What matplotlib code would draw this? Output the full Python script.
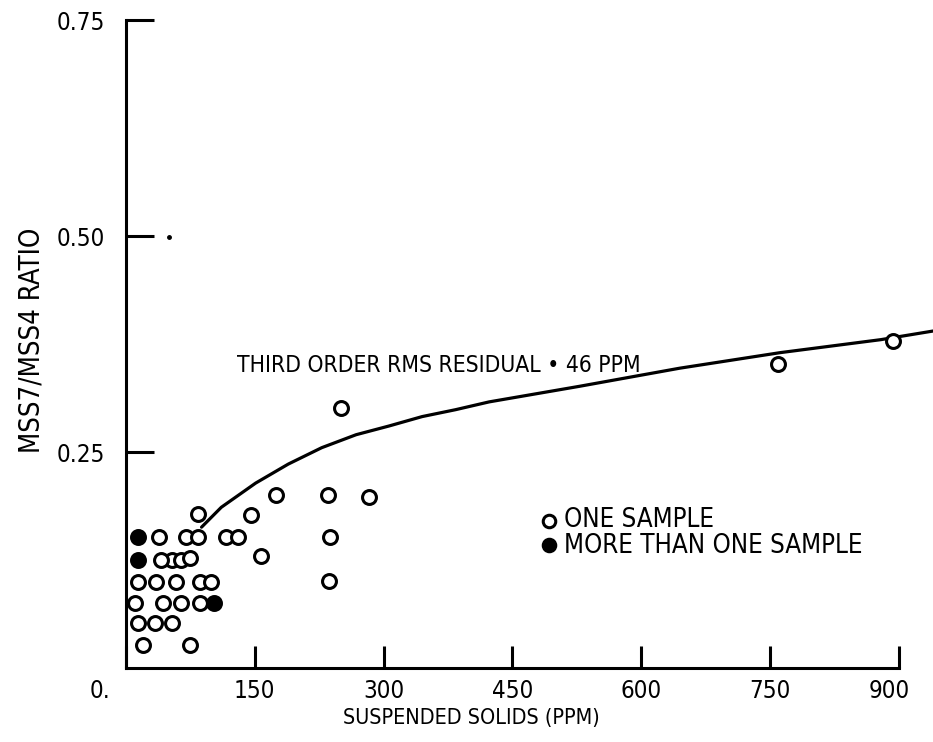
import os
import matplotlib
matplotlib.use("Agg")
import matplotlib.pyplot as plt
import matplotlib.font_manager as fm
from matplotlib.font_manager import FontProperties
from matplotlib.transforms import ScaledTranslation

plt.rcParams['font.family'] = ['DejaVu Sans']

# ---- data ----
open_x = [250, 175, 235, 283, 146, 84, 157, 238, 237, 116, 131, 70, 84, 39,
          53, 64, 75, 86, 99, 86, 75, 20, 760, 893,
          41, 14, 35, 58, 11, 43, 64, 14, 34, 53]
open_y = [0.301, 0.200, 0.200, 0.198, 0.177, 0.178, 0.130, 0.152, 0.101, 0.152,
          0.152, 0.152, 0.152, 0.152, 0.125, 0.125, 0.127, 0.100, 0.100, 0.075,
          0.027, 0.027, 0.352, 0.378,
          0.125, 0.100, 0.100, 0.100, 0.075, 0.075, 0.075, 0.052, 0.052, 0.052]
filled_x = [14, 14, 102]
filled_y = [0.152, 0.125, 0.075]

fit_x = [88, 111, 151, 189, 228, 268, 306, 345, 384, 423, 528, 645, 762, 879, 940]
fit_y = [0.163, 0.186, 0.214, 0.236, 0.255, 0.270, 0.280, 0.291, 0.299, 0.308,
         0.326, 0.347, 0.365, 0.380, 0.390]

xticks = [0, 150, 300, 450, 600, 750, 900]
xtick_labels = ['0.', '150', '300', '450', '600', '750', '900']
yticks = [0.25, 0.50, 0.75]
ytick_labels = ['0.25', '0.50', '0.75']

# ---- find a condensed font if one is installed ----
def find_font():
    wanted = ['liberationsansnarrow-regular.ttf', 'dejavusanscondensed.ttf',
              'notosans-condensed.ttf', 'robotocondensed-regular.ttf',
              'opensans-condensedregular.ttf']
    files = {os.path.basename(f.fname).lower(): f.fname for f in fm.fontManager.ttflist}
    for w in wanted:
        if w in files:
            return FontProperties(fname=files[w])
    for name, path in files.items():
        if ('condensed' in name or 'narrow' in name) and 'bold' not in name and 'italic' not in name:
            return FontProperties(fname=path)
    return FontProperties(family='DejaVu Sans')

FP = find_font()

W, H = 933, 742
fig = plt.figure(figsize=(W / 100, H / 100), dpi=100)
left, right, bottom, top = 126, 933, 668, 20
ax = fig.add_axes([left / W, 1 - bottom / H, (right - left) / W, (bottom - top) / H])
ax.set_xlim(0, 940)
ax.set_ylim(0, 0.75)

ax.spines['top'].set_visible(False)
ax.spines['right'].set_visible(False)
for s in ('left', 'bottom'):
    ax.spines[s].set_linewidth(2.2)
ax.spines['bottom'].set_bounds(0, 900)

ax.plot(fit_x, fit_y, color='black', lw=2.3, solid_capstyle='round')
ax.plot(open_x, open_y, 'o', ms=10, mfc='white', mec='black', mew=2.2, ls='none')
ax.plot(filled_x, filled_y, 'o', ms=10, mfc='black', mec='black', mew=2.2, ls='none')
# scan speck
ax.plot([50], [0.499], 'o', ms=2.5, color='black')

ax.set_xticks(xticks)
ax.set_xticklabels(xtick_labels)
ax.set_yticks(yticks)
ax.set_yticklabels(ytick_labels)
ax.tick_params(axis='x', direction='in', length=16, width=2.2, pad=8)
ax.tick_params(axis='y', direction='in', length=20, width=2.2, pad=15)

def px(xp, yp):
    return ((xp - left) / (right - left), (bottom - yp) / (bottom - top))

ax.set_xlabel('SUSPENDED SOLIDS (PPM)')
ax.xaxis.label.set_va('center')
ax.xaxis.set_label_coords(*px(471, 718))
ax.set_ylabel('MSS7/MSS4 RATIO')
ax.yaxis.label.set_va('center')
ax.yaxis.label.set_ha('center')
ax.yaxis.set_label_coords(*px(31, 340))

t_fit = ax.text(*px(237, 366), 'THIRD ORDER RMS RESIDUAL \u2022 46 PPM', transform=ax.transAxes,
                va='center', ha='left')

lx, _ = px(549, 0)
ax.plot([lx], [px(0, 521)[1]], 'o', transform=ax.transAxes,
        ms=9, mfc='white', mec='black', mew=2.2, clip_on=False)
ax.plot([lx], [px(0, 545)[1]], 'o', transform=ax.transAxes,
        ms=9, mfc='black', mec='black', mew=2.2, clip_on=False)
t_one = ax.text(*px(564, 520), 'ONE SAMPLE', transform=ax.transAxes, va='center', ha='left')
t_more = ax.text(*px(564, 546), 'MORE THAN ONE SAMPLE', transform=ax.transAxes,
                 va='center', ha='left')

# ---- fit font sizes to the widths seen in the reference ----
renderer = fig.canvas.get_renderer()

def fit_size(t, target, vertical=False, base=20):
    t.set_fontproperties(FP)
    t.set_fontsize(base)
    bb = t.get_window_extent(renderer)
    cur = bb.height if vertical else bb.width
    return base * target / cur

for t in (t_fit, t_one, t_more, ax.xaxis.label, ax.yaxis.label):
    t.set_fontproperties(FP)
t_fit.set_fontsize(fit_size(t_fit, 405))
s_leg = fit_size(t_more, 300)
t_more.set_fontsize(s_leg)
t_one.set_fontproperties(FP)
t_one.set_fontsize(s_leg)
ax.xaxis.label.set_fontsize(fit_size(ax.xaxis.label, 258))
ax.yaxis.label.set_fontsize(fit_size(ax.yaxis.label, 226, vertical=True))

probe = fig.text(0, 0, '0.50')
s_tick = fit_size(probe, 48)
probe.remove()
for lab in ax.get_xticklabels() + ax.get_yticklabels():
    lab.set_fontproperties(FP)
    lab.set_fontsize(s_tick)

xl = ax.get_xticklabels()
xl[0].set_transform(xl[0].get_transform() + ScaledTranslation(-0.26, 0, fig.dpi_scale_trans))
xl[-1].set_transform(xl[-1].get_transform() + ScaledTranslation(-0.09, 0, fig.dpi_scale_trans))

fig.savefig('out.png', dpi=100)
